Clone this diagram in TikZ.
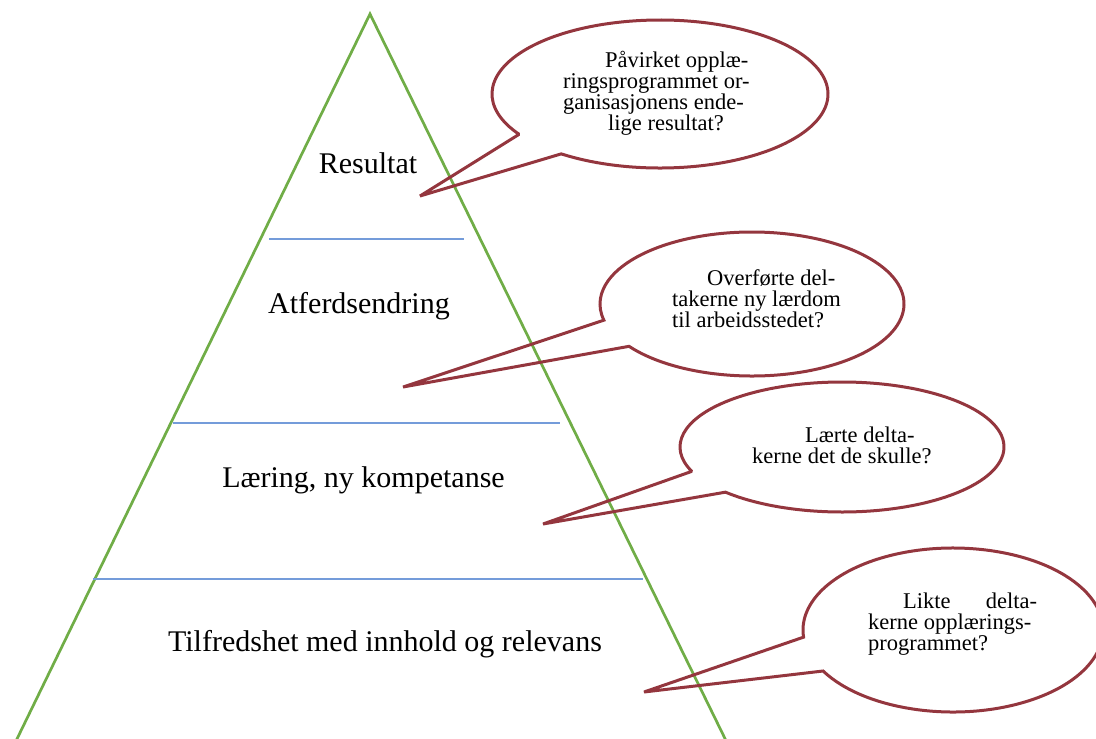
\documentclass[tikz,border=0pt]{standalone}
\usepackage{fontspec}
\setmainfont{Liberation Serif}
\usetikzlibrary{calc}
\definecolor{pyrgreen}{RGB}{112,173,71}
\definecolor{levelblue}{RGB}{116,156,218}
\definecolor{bubblered}{RGB}{148,54,62}
\tikzset{
	level/.style={font=\fontsize{30}{36}\selectfont, anchor=base},
	question/.style={font=\fontsize{22.5}{21}\selectfont, align=left, anchor=base west, inner sep=0pt},
	bubble/.style={draw=bubblered, line width=3pt, line join=miter, miter limit=1.5}
}

\begin{document}
\begin{tikzpicture}[x=1pt,y=-1pt]
	\useasboundingbox (0,0) rectangle (1096,739);
	\clip (0,0) rectangle (1096,739);
	% pyramid
	\coordinate (top) at (370,14);
	\draw[pyrgreen, line width=2.7pt] (11.6,750) -- (top) -- (730.6,750);
	\draw[levelblue, line width=2pt] (269,238.5) -- (464,238.5) (173,423) -- (560,423) (93,578.5) -- (643,578.5);
	\node[level] (res) at (368,173) {Resultat};
	\node[level] (atf) at (359,313) {Atferdsendring};
	\node[level] (laer) at (363.5,487) {Læring, ny kompetanse};
	\node[level] (tilf) at (385,651) {Tilfredshet med innhold og relevans};
	% callouts
	\coordinate (c1) at (660,94);   \coordinate (tip1) at (420,196);
	\coordinate (c2) at (752,304);  \coordinate (tip2) at (403,387);
	\coordinate (c3) at (842,447);  \coordinate (tip3) at (543,524);
	\coordinate (c4) at (953,630);  \coordinate (tip4) at (644,692);
	\draw[bubble] ($(c1)+(147:168 and 74)$) -- (tip1) -- ($(c1)+(126:168 and 74)$) arc[start angle=126, end angle=-213, x radius=168, y radius=74] -- cycle;
	\draw[bubble] ($(c2)+(167:152 and 72)$) -- (tip2) -- ($(c2)+(144:152 and 72)$) arc[start angle=144, end angle=-193, x radius=152, y radius=72] -- cycle;
	\draw[bubble] ($(c3)+(158:162 and 65)$) -- (tip3) -- ($(c3)+(136:162 and 65)$) arc[start angle=136, end angle=-202, x radius=162, y radius=65] -- cycle;
	\draw[bubble] ($(c4)+(175:150 and 82)$) -- (tip4) -- ($(c4)+(150:150 and 82)$) arc[start angle=150, end angle=-185, x radius=150, y radius=82] -- cycle;
	% question texts, placed at the baseline of their last line
	\node[question] (q1) at (563,130) {\hspace*{42pt}Påvirket opplæ-\\ringsprogrammet or-\\ganisasjonens ende-\\\hspace*{45pt}lige resultat?};
	\node[question] (q2) at (672,327) {\hspace*{35pt}Overførte del-\\takerne ny lærdom\\til arbeidsstedet?};
	\node[question] (q3) at (752,463) {\hspace*{53pt}Lærte delta-\\kerne det de skulle?};
	\node[question] (q4) at (868,650) {\makebox[169pt][l]{\hspace*{35pt}Likte\hfill delta-}\\kerne opplærings-\\programmet?};
\end{tikzpicture}
\end{document}
